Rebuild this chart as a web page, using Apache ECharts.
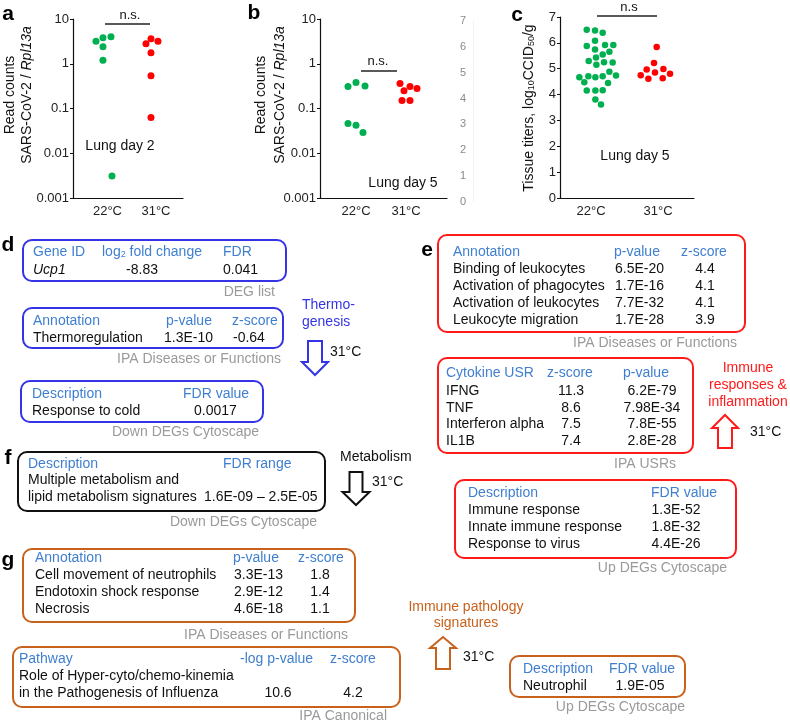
<!DOCTYPE html>
<html><head><meta charset="utf-8">
<script src="https://cdn.jsdelivr.net/npm/echarts@6/dist/echarts.min.js"></script>
<style>html,body{margin:0;padding:0;background:#fff}#c{width:790px;height:724px}</style>
</head><body><div id="c"></div>
<script>
// ---------------- data ----------------
const categories = ['22°C', '31°C'];
const logTickLabels = ['0.001', '0.01', '0.1', '1', '10'];
const titerTickLabels = ['0', '1', '2', '3', '4', '5', '6', '7'];

// panel a: Lung day 2, read counts SARS-CoV-2 / Rpl13a
const aCold = [3.2, 3.8, 4.0, 2.4, 1.2, 0.0031];
const aColdX = [0.763, 0.907, 1.072, 0.907, 0.907, 1.093];
const aWarm = [2.8, 3.6, 3.2, 1.75, 0.54, 0.063];
const aWarmX = [1.794, 1.897, 2.041, 1.897, 1.897, 1.897];

// panel b: Lung day 5, read counts
const bCold = [0.31, 0.38, 0.32, 0.046, 0.042, 0.029];
const bColdX = [0.84, 1.0, 1.18, 0.84, 1.0, 1.14];
const bWarm = [0.36, 0.25, 0.31, 0.28, 0.15, 0.15];
const bWarmX = [1.88, 1.96, 2.08, 2.22, 1.92, 2.08];

// panel c: Lung day 5, tissue titers log10 CCID50/g
const cCold = [6.51, 6.48, 6.39, 5.88, 6.08, 5.92, 5.92, 5.74, 5.55, 5.66, 5.30, 5.43, 5.25, 5.24, 5.15,
               4.67, 4.71, 4.67, 4.71, 4.88, 4.74, 4.48, 4.45, 4.16, 4.16, 4.17, 3.81, 3.62];
const cColdX = [0.936, 1.060, 1.174, 0.936, 1.060, 1.209, 1.333, 1.060, 1.174, 1.274, 0.965, 1.075, 1.194, 1.323, 1.080,
                0.826, 0.960, 1.065, 1.174, 1.274, 1.373, 0.900, 1.254, 0.936, 1.065, 1.174, 1.065, 1.149];
const cWarm = [5.84, 5.22, 4.97, 4.99, 4.85, 4.75, 4.81, 4.61, 4.63];
const cWarmX = [1.980, 1.940, 1.831, 2.080, 1.955, 1.742, 2.179, 1.856, 2.070];

// text tables
const dDegHeader = ['Gene ID', 'log2 fold change', 'FDR'];
const dDegRow = ['Ucp1', '-8.83', '0.041'];
const dIpaHeader = ['Annotation', 'p-value', 'z-score'];
const dIpaRow = ['Thermoregulation', '1.3E-10', '-0.64'];
const dCytoHeader = ['Description', 'FDR value'];
const dCytoRow = ['Response to cold', '0.0017'];

const eIpaHeader = ['Annotation', 'p-value', 'z-score'];
const eIpaNames = ['Binding of leukocytes', 'Activation of phagocytes', 'Activation of leukocytes', 'Leukocyte migration'];
const eIpaP = ['6.5E-20', '1.7E-16', '7.7E-32', '1.7E-28'];
const eIpaZ = ['4.4', '4.1', '4.1', '3.9'];
const eUsrHeader = ['Cytokine USR', 'z-score', 'p-value'];
const eUsrNames = ['IFNG', 'TNF', 'Interferon alpha', 'IL1B'];
const eUsrZ = ['11.3', '8.6', '7.5', '7.4'];
const eUsrP = ['6.2E-79', '7.98E-34', '7.8E-55', '2.8E-28'];
const eCytoHeader = ['Description', 'FDR value'];
const eCytoNames = ['Immune response', 'Innate immune response', 'Response to virus'];
const eCytoFdr = ['1.3E-52', '1.8E-32', '4.4E-26'];

const fHeader = ['Description', 'FDR range'];
const fRows = ['Multiple metabolism and', 'lipid metabolism signatures'];
const fRange = '1.6E-09 – 2.5E-05';

const gIpaHeader = ['Annotation', 'p-value', 'z-score'];
const gIpaNames = ['Cell movement of neutrophils', 'Endotoxin shock response', 'Necrosis'];
const gIpaP = ['3.3E-13', '2.9E-12', '4.6E-18'];
const gIpaZ = ['1.8', '1.4', '1.1'];
const gCanHeader = ['Pathway', '-log p-value', 'z-score'];
const gCanRows = ['Role of Hyper-cyto/chemo-kinemia', 'in the Pathogenesis of Influenza'];
const gCanVals = ['10.6', '4.2'];
const gCytoHeader = ['Description', 'FDR value'];
const gCytoRow = ['Neutrophil', '1.9E-05'];

// ---------------- styles ----------------
const FONT = '"Liberation Sans", Arial, Helvetica, sans-serif';
const GREEN = '#00b050', RED = '#ff0000';
const HEAD = '#3f7fd0', CAP = '#9a9a9a', TXT = '#111';
const BLUE = '#3434e6', BRED = '#ff1a1a', ORANGE = '#c8611c', BLACK = '#111';

const chart = echarts.init(document.getElementById('c'), null, {renderer: 'canvas'});

function xAxisCfg(grid, min, max) {
  return {
    type: 'value', gridIndex: grid, min: min, max: max,
    axisLine: {show: true, onZero: false, lineStyle: {color: '#111', width: 1.2}},
    axisTick: {show: false}, splitLine: {show: false},
    axisLabel: {customValues: [1, 2], formatter: v => categories[Math.round(v) - 1],
      fontSize: 13, color: '#222', fontFamily: FONT, margin: 7}
  };
}
function logYAxis(grid) {
  return {
    type: 'log', logBase: 10, gridIndex: grid, min: 0.001, max: 10,
    axisLine: {show: true, lineStyle: {color: '#111', width: 1.2}},
    axisTick: {show: true, length: 3, lineStyle: {color: '#111'}},
    splitLine: {show: false}, minorTick: {show: false},
    axisLabel: {fontSize: 13, color: '#222', fontFamily: FONT, margin: 4,
      formatter: v => logTickLabels[Math.round(Math.log10(v)) + 3]}
  };
}
function pts(xs, ys) { return ys.map((v, i) => [xs[i], v]); }
function sc(xi, yi, xs, ys, color, size) {
  return {type: 'scatter', xAxisIndex: xi, yAxisIndex: yi, data: pts(xs, ys), symbolSize: size,
    itemStyle: {color: color, opacity: 1}, emphasis: {disabled: true}, silent: true, animation: false};
}

// graphic helpers
function T(x, y, text, o) {
  o = o || {};
  const st = {text: text, x: 0, y: 0, fill: o.fill || TXT,
    font: (o.style || '') + ' ' + (o.weight || 'normal') + ' ' + (o.size || 14) + 'px ' + FONT,
    textAlign: o.align || 'left', textVerticalAlign: 'middle'};
  if (o.rich) st.rich = o.rich;
  return {type: 'text', x: x, y: y, rotation: o.rot || 0, style: st, silent: true};
}
function BOX(x, y, w, h, color) {
  return {type: 'rect', shape: {x: x, y: y, width: w, height: h, r: 9}, silent: true,
    style: {fill: 'none', stroke: color, lineWidth: 2}};
}
function LINE(x1, x2, y) {
  return {type: 'line', shape: {x1: x1, y1: y, x2: x2, y2: y}, silent: true, style: {stroke: '#222', lineWidth: 1.3}};
}
// hollow block arrow; dir = 1 (down) or -1 (up); y0 = tail end, y1 = tip
function ARROW(cx, y0, yHead, y1, sw, hw, color) {
  return {type: 'polygon', silent: true, shape: {points: [
    [cx - sw / 2, y0], [cx + sw / 2, y0], [cx + sw / 2, yHead], [cx + hw / 2, yHead],
    [cx, y1], [cx - hw / 2, yHead], [cx - sw / 2, yHead]]},
    style: {fill: '#fff', stroke: color, lineWidth: 2, lineJoin: 'miter'}};
}
const subRich = (size) => ({
  n: {fontSize: size, fontFamily: FONT, fill: TXT},
  s: {fontSize: 9, fontFamily: FONT, fill: TXT, verticalAlign: 'bottom', padding: [5, 0, 0, 0]},
  i: {fontSize: size, fontFamily: FONT, fill: TXT, fontStyle: 'italic'}
});

const G = [];
// panel letters
[['a', 8, 14], ['b', 254, 13], ['c', 517, 15], ['d', 8, 245], ['e', 427, 250], ['f', 8, 458], ['g', 8, 560]]
  .forEach(l => G.push(T(l[1], l[2], l[0], {weight: 'bold', size: 21, align: 'center', fill: '#000'})));

// y axis titles
G.push(T(10, 95, 'Read counts', {rot: Math.PI / 2, align: 'center', size: 14}));
G.push(T(27, 95, '{n|SARS-CoV-2 / }{i|Rpl13a}', {rot: Math.PI / 2, align: 'center', size: 14, rich: subRich(14)}));
G.push(T(261, 95, 'Read counts', {rot: Math.PI / 2, align: 'center', size: 14}));
G.push(T(280, 95, '{n|SARS-CoV-2 / }{i|Rpl13a}', {rot: Math.PI / 2, align: 'center', size: 14, rich: subRich(14)}));
G.push(T(529, 108, '{n|Tissue titers, log}{s|10}{n|CCID}{s|50}{n|/g}', {rot: Math.PI / 2, align: 'center', size: 14, rich: subRich(14)}));

// plot annotations
G.push(T(130, 15, 'n.s.', {align: 'center', size: 13}), LINE(105, 150, 24), T(120, 146, 'Lung day 2', {align: 'center', size: 14}));
G.push(T(378, 61, 'n.s.', {align: 'center', size: 13}), LINE(361, 397, 71), T(403, 183, 'Lung day 5', {align: 'center', size: 14}));
G.push(T(629, 7, 'n.s', {align: 'center', size: 13}), LINE(597, 657, 16), T(635, 156, 'Lung day 5', {align: 'center', size: 14}));

// ---- panel d ----
G.push(BOX(23, 240, 263, 41, BLUE));
G.push(T(33, 252, dDegHeader[0], {fill: HEAD}));
G.push(T(102, 252, '{n|log}{s|2}{n| fold change}', {rich: {n: {fontSize: 14, fontFamily: FONT, fill: HEAD}, s: {fontSize: 9, fontFamily: FONT, fill: HEAD, verticalAlign: 'bottom', padding: [5, 0, 0, 0]}}}));
G.push(T(223, 252, dDegHeader[2], {fill: HEAD}));
G.push(T(33, 270, dDegRow[0], {style: 'italic'}), T(142, 270, dDegRow[1], {align: 'center'}), T(223, 270, dDegRow[2]));
G.push(T(275, 292, 'DEG list', {fill: CAP, align: 'right'}));

G.push(BOX(23, 308, 260, 40, BLUE));
G.push(T(33, 321, dIpaHeader[0], {fill: HEAD}), T(166, 321, dIpaHeader[1], {fill: HEAD}), T(232, 321, dIpaHeader[2], {fill: HEAD}));
G.push(T(33, 338, dIpaRow[0]), T(164, 338, dIpaRow[1]), T(233, 338, dIpaRow[2]));
G.push(T(281, 359, 'IPA Diseases or Functions', {fill: CAP, align: 'right'}));

G.push(T(302, 305, 'Thermo-', {fill: BLUE}), T(302, 322, 'genesis', {fill: BLUE}));
G.push(ARROW(315, 341, 362, 375, 14, 26, BLUE));
G.push(T(330, 352, '31°C'));

G.push(BOX(21, 381, 242, 41, BLUE));
G.push(T(32, 394, dCytoHeader[0], {fill: HEAD}), T(183, 394, dCytoHeader[1], {fill: HEAD}));
G.push(T(32, 411, dCytoRow[0]), T(194, 411, dCytoRow[1]));
G.push(T(259, 432, 'Down DEGs Cytoscape', {fill: CAP, align: 'right'}));

// ---- panel f ----
G.push(BOX(18, 452, 307, 59, BLACK));
G.push(T(28, 464, fHeader[0], {fill: HEAD}), T(223, 464, fHeader[1], {fill: HEAD}));
G.push(T(28, 480, fRows[0]), T(28, 497, fRows[1]), T(204, 497, fRange));
G.push(T(317, 522, 'Down DEGs Cytoscape', {fill: CAP, align: 'right'}));
G.push(T(340, 457, 'Metabolism'));
G.push(ARROW(356, 472, 492, 505, 13, 27, BLACK));
G.push(T(372, 482, '31°C'));

// ---- panel g ----
G.push(BOX(23, 549, 332, 73, ORANGE));
G.push(T(35, 558, gIpaHeader[0], {fill: HEAD}), T(233, 558, gIpaHeader[1], {fill: HEAD}), T(298, 558, gIpaHeader[2], {fill: HEAD}));
gIpaNames.forEach((n, i) => {
  const y = 575 + i * 17;
  G.push(T(35, y, n), T(234, y, gIpaP[i]), T(320, y, gIpaZ[i], {align: 'center'}));
});
G.push(T(348, 635, 'IPA Diseases or Functions', {fill: CAP, align: 'right'}));

G.push(BOX(13, 647, 387, 60, ORANGE));
G.push(T(19, 659, gCanHeader[0], {fill: HEAD}), T(240, 659, gCanHeader[1], {fill: HEAD}), T(330, 659, gCanHeader[2], {fill: HEAD}));
G.push(T(19, 676, gCanRows[0]), T(19, 693, gCanRows[1]), T(278, 693, gCanVals[0], {align: 'center'}), T(353, 693, gCanVals[1], {align: 'center'}));
G.push(T(387, 716, 'IPA Canonical', {fill: CAP, align: 'right'}));

G.push(T(466, 607, 'Immune pathology', {fill: ORANGE, align: 'center'}), T(466, 623, 'signatures', {fill: ORANGE, align: 'center'}));
G.push(ARROW(443, 669, 648, 637, 14, 26, ORANGE));
G.push(T(463, 657, '31°C'));

G.push(BOX(510, 656, 175, 41, ORANGE));
G.push(T(523, 669, gCytoHeader[0], {fill: HEAD}), T(609, 669, gCytoHeader[1], {fill: HEAD}));
G.push(T(523, 686, gCytoRow[0]), T(640, 686, gCytoRow[1], {align: 'center'}));
G.push(T(685, 707, 'Up DEGs Cytoscape', {fill: CAP, align: 'right'}));

// ---- panel e ----
G.push(BOX(438, 235, 307, 97, BRED));
G.push(T(453, 252, eIpaHeader[0], {fill: HEAD}), T(614, 252, eIpaHeader[1], {fill: HEAD}), T(681, 252, eIpaHeader[2], {fill: HEAD}));
eIpaNames.forEach((n, i) => {
  const y = 269 + i * 17;
  G.push(T(453, y, n), T(615, y, eIpaP[i]), T(705, y, eIpaZ[i], {align: 'center'}));
});
G.push(T(737, 343, 'IPA Diseases or Functions', {fill: CAP, align: 'right'}));

G.push(BOX(438, 358, 255, 95, BRED));
G.push(T(446, 373, eUsrHeader[0], {fill: HEAD}), T(547, 373, eUsrHeader[1], {fill: HEAD}), T(623, 373, eUsrHeader[2], {fill: HEAD}));
eUsrNames.forEach((n, i) => {
  const y = 391 + i * 16.7;
  G.push(T(446, y, n), T(571, y, eUsrZ[i], {align: 'center'}), T(652, y, eUsrP[i], {align: 'center'}));
});
G.push(T(645, 464, 'IPA USRs', {fill: CAP, align: 'center'}));

G.push(T(748, 368, 'Immune', {fill: BRED, align: 'center'}), T(748, 385, 'responses &', {fill: BRED, align: 'center'}), T(748, 402, 'inflammation', {fill: BRED, align: 'center'}));
G.push(ARROW(725, 448, 428, 415, 14, 26, BRED));
G.push(T(750, 432, '31°C'));

G.push(BOX(455, 480, 281, 78, BRED));
G.push(T(468, 493, eCytoHeader[0], {fill: HEAD}), T(651, 493, eCytoHeader[1], {fill: HEAD}));
eCytoNames.forEach((n, i) => {
  const y = 510 + i * 17;
  G.push(T(468, y, n), T(676, y, eCytoFdr[i], {align: 'center'}));
});
G.push(T(727, 568, 'Up DEGs Cytoscape', {fill: CAP, align: 'right'}));

const option = {
  backgroundColor: '#fff',
  animation: false,
  grid: [
    {left: 73, top: 19, width: 110, height: 179},
    {left: 320, top: 19, width: 127, height: 179},
    {left: 560, top: 17, width: 134, height: 181},
    {left: 473, top: 21, width: 1, height: 181}
  ],
  xAxis: [
    xAxisCfg(0, 0.289, 2.557),
    xAxisCfg(1, 0.28, 2.82),
    xAxisCfg(2, 0.537, 2.537),
    {type: 'value', gridIndex: 3, show: false, min: 0, max: 1}
  ],
  yAxis: [
    logYAxis(0),
    logYAxis(1),
    {type: 'value', gridIndex: 2, min: 0, max: 7, interval: 1,
      axisLine: {show: true, lineStyle: {color: '#111', width: 1.2}},
      axisTick: {show: true, length: 3, lineStyle: {color: '#111'}},
      splitLine: {show: false},
      axisLabel: {fontSize: 13, color: '#222', fontFamily: FONT, margin: 4, formatter: v => titerTickLabels[v]}},
    {type: 'value', gridIndex: 3, min: 0, max: 7, interval: 1,
      axisLine: {show: true, lineStyle: {color: '#f2f2f2', width: 1}},
      axisTick: {show: false}, splitLine: {show: false},
      axisLabel: {fontSize: 11, color: '#8a8a8a', fontFamily: FONT, margin: 7, formatter: v => titerTickLabels[v]}}
  ],
  series: [
    sc(0, 0, aColdX, aCold, GREEN, 7), sc(0, 0, aWarmX, aWarm, RED, 7),
    sc(1, 1, bColdX, bCold, GREEN, 7), sc(1, 1, bWarmX, bWarm, RED, 7),
    sc(2, 2, cColdX, cCold, GREEN, 6.5), sc(2, 2, cWarmX, cWarm, RED, 6.5)
  ],
  graphic: {elements: G}
};
chart.setOption(option);
</script>
</body></html>
